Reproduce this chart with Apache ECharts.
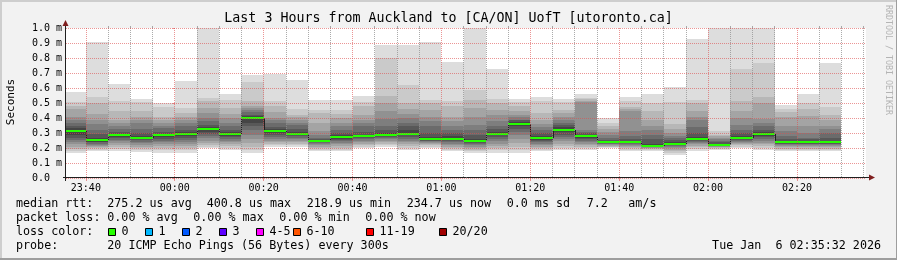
<!DOCTYPE html>
<html><head><meta charset="utf-8">
<script src="https://cdn.jsdelivr.net/npm/echarts@6/dist/echarts.min.js"></script>
<style>html,body{margin:0;padding:0;background:#f2f2f2}#c{width:897px;height:260px}</style>
</head><body><div id="c"></div>
<script>
// ---- data ----
const rangeStart = '23:35:32';
const rangeEnd = '02:35:32';
const stepMinutes = 5; // probe every 300s
const slotEnds = ['23:40','23:45','23:50','23:55','00:00','00:05','00:10','00:15','00:20','00:25','00:30','00:35','00:40','00:45','00:50','00:55','01:00','01:05','01:10','01:15','01:20','01:25','01:30','01:35','01:40','01:45','01:50','01:55','02:00','02:05','02:10','02:15','02:20','02:25','02:30'];
// sorted ping rtts per slot (ms)
const pings = [
[0.166,0.18,0.195,0.21,0.225,0.24,0.255,0.27,0.29,0.305,0.316,0.333,0.345,0.367,0.39,0.41,0.461,0.483,0.506,0.573],
[0.181,0.19,0.2,0.208,0.215,0.222,0.23,0.237,0.243,0.248,0.254,0.27,0.295,0.322,0.36,0.39,0.43,0.5,0.539,0.904],
[0.18,0.195,0.21,0.222,0.235,0.245,0.255,0.265,0.275,0.282,0.287,0.295,0.31,0.33,0.349,0.37,0.389,0.45,0.512,0.624],
[0.172,0.185,0.198,0.21,0.222,0.232,0.242,0.252,0.26,0.264,0.268,0.28,0.3,0.33,0.367,0.39,0.41,0.445,0.506,0.53],
[0.17,0.185,0.2,0.213,0.225,0.237,0.25,0.262,0.274,0.282,0.286,0.295,0.31,0.333,0.35,0.367,0.39,0.41,0.474,0.501],
[0.17,0.185,0.2,0.213,0.226,0.24,0.253,0.266,0.28,0.29,0.296,0.305,0.32,0.345,0.37,0.39,0.41,0.434,0.468,0.644],
[0.199,0.21,0.222,0.235,0.25,0.265,0.28,0.295,0.31,0.322,0.332,0.34,0.355,0.378,0.4,0.434,0.47,0.512,0.535,1.15],
[0.188,0.2,0.212,0.225,0.238,0.25,0.262,0.272,0.282,0.289,0.293,0.305,0.32,0.345,0.37,0.4,0.43,0.468,0.523,0.557],
[0.17,0.19,0.21,0.235,0.26,0.29,0.32,0.345,0.37,0.392,0.404,0.415,0.42,0.44,0.456,0.47,0.483,0.512,0.64,0.685],
[0.21,0.22,0.23,0.24,0.25,0.262,0.274,0.287,0.3,0.308,0.314,0.325,0.34,0.367,0.385,0.4,0.44,0.479,0.512,0.696],
[0.21,0.22,0.23,0.24,0.25,0.26,0.27,0.278,0.285,0.289,0.293,0.31,0.33,0.356,0.37,0.39,0.41,0.423,0.463,0.653],
[0.177,0.19,0.2,0.21,0.218,0.225,0.232,0.237,0.241,0.243,0.245,0.25,0.26,0.27,0.29,0.311,0.37,0.434,0.456,0.523],
[0.177,0.19,0.2,0.212,0.224,0.235,0.245,0.255,0.263,0.269,0.273,0.285,0.3,0.32,0.345,0.37,0.4,0.43,0.456,0.523],
[0.199,0.21,0.22,0.23,0.24,0.25,0.258,0.265,0.271,0.275,0.279,0.29,0.31,0.345,0.37,0.39,0.423,0.479,0.506,0.546],
[0.21,0.22,0.23,0.24,0.25,0.258,0.266,0.273,0.279,0.282,0.286,0.3,0.32,0.345,0.396,0.445,0.5,0.55,0.8,0.886],
[0.188,0.2,0.212,0.225,0.238,0.25,0.262,0.275,0.285,0.292,0.298,0.32,0.345,0.37,0.4,0.43,0.461,0.5,0.617,0.886],
[0.199,0.208,0.217,0.225,0.232,0.239,0.245,0.25,0.255,0.258,0.262,0.275,0.3,0.345,0.38,0.41,0.456,0.5,0.523,0.908],
[0.177,0.19,0.2,0.21,0.22,0.23,0.238,0.246,0.254,0.258,0.262,0.28,0.3,0.32,0.35,0.378,0.41,0.479,0.512,0.774],
[0.166,0.178,0.19,0.2,0.21,0.218,0.226,0.233,0.239,0.242,0.246,0.26,0.29,0.32,0.356,0.41,0.468,0.523,0.586,1.2],
[0.17,0.185,0.2,0.215,0.23,0.245,0.26,0.272,0.285,0.292,0.298,0.31,0.325,0.345,0.378,0.42,0.456,0.5,0.528,0.725],
[0.17,0.19,0.21,0.235,0.26,0.285,0.31,0.33,0.345,0.358,0.366,0.375,0.385,0.39,0.41,0.423,0.45,0.479,0.506,0.528],
[0.177,0.188,0.198,0.208,0.218,0.228,0.238,0.248,0.256,0.262,0.266,0.28,0.3,0.32,0.34,0.36,0.39,0.434,0.512,0.541],
[0.188,0.2,0.215,0.23,0.245,0.26,0.275,0.29,0.305,0.318,0.326,0.34,0.355,0.367,0.39,0.41,0.435,0.456,0.506,0.528],
[0.188,0.2,0.21,0.22,0.23,0.24,0.25,0.26,0.268,0.275,0.279,0.29,0.3,0.31,0.322,0.506,0.515,0.525,0.535,0.557],
[0.199,0.205,0.21,0.215,0.22,0.225,0.229,0.232,0.235,0.236,0.238,0.245,0.255,0.27,0.289,0.31,0.33,0.349,0.367,0.4],
[0.177,0.188,0.198,0.207,0.215,0.222,0.229,0.235,0.239,0.241,0.243,0.25,0.26,0.28,0.311,0.445,0.46,0.474,0.512,0.541],
[0.177,0.185,0.192,0.198,0.203,0.207,0.21,0.212,0.214,0.215,0.217,0.23,0.26,0.289,0.32,0.345,0.39,0.445,0.5,0.557],
[0.154,0.168,0.18,0.19,0.2,0.208,0.215,0.22,0.225,0.227,0.229,0.24,0.255,0.265,0.28,0.3,0.33,0.362,0.506,0.608],
[0.183,0.195,0.205,0.215,0.225,0.233,0.24,0.247,0.253,0.258,0.262,0.275,0.3,0.34,0.39,0.41,0.45,0.5,0.523,0.926],
[0.188,0.195,0.2,0.205,0.209,0.212,0.215,0.217,0.219,0.22,0.222,0.23,0.24,0.25,0.26,0.27,0.28,0.289,0.311,1.2],
[0.199,0.208,0.217,0.225,0.233,0.24,0.247,0.254,0.259,0.262,0.266,0.28,0.3,0.32,0.356,0.4,0.45,0.512,0.73,1.2],
[0.188,0.2,0.212,0.224,0.236,0.248,0.26,0.272,0.283,0.292,0.298,0.31,0.32,0.345,0.37,0.394,0.5,0.541,0.765,1.2],
[0.177,0.187,0.196,0.204,0.212,0.219,0.225,0.23,0.234,0.236,0.238,0.245,0.26,0.28,0.311,0.35,0.41,0.44,0.461,0.49],
[0.177,0.187,0.196,0.204,0.212,0.219,0.225,0.23,0.234,0.236,0.238,0.245,0.257,0.27,0.3,0.35,0.416,0.46,0.5,0.557],
[0.177,0.187,0.196,0.204,0.212,0.219,0.225,0.23,0.234,0.236,0.238,0.25,0.27,0.3,0.33,0.35,0.389,0.423,0.474,0.765]
];
const medians = [0.311,0.251,0.284,0.266,0.284,0.293,0.327,0.291,0.398,0.311,0.291,0.244,0.271,0.277,0.284,0.295,0.26,0.26,0.244,0.295,0.362,0.264,0.322,0.277,0.237,0.242,0.215,0.228,0.258,0.221,0.264,0.295,0.237,0.237,0.237];
const xMajorLabels = ['23:40','00:00','00:20','00:40','01:00','01:20','01:40','02:00','02:20'];
const xMinorGrid = ['23:45','23:50','23:55','00:05','00:10','00:15','00:25','00:30','00:35','00:45','00:50','00:55','01:05','01:10','01:15','01:25','01:30','01:35','01:45','01:50','01:55','02:05','02:10','02:15','02:25','02:30','02:35'];
const yMin = 0, yMax = 1.0, yStep = 0.1;
const legendRows = [
  [['median rtt:',16],['275.2 us avg',107.3],['400.8 us max',206.7],['218.9 us min',306.7],['234.7 us now',406.7],['0.0 ms sd',506.7],['7.2',586.7],['am/s',628.3]],
  [['packet loss:',16],['0.00 % avg',107.3],['0.00 % max',193.3],['0.00 % min',279.3],['0.00 % now',365.3]],
  [['loss color:',16]],
  [['probe:',16],['20 ICMP Echo Pings (56 Bytes) every 300s',107.3]]
];
const lossLabels = ['0','1','2','3','4-5','6-10','11-19','20/20'];
const lossColors = ['#26ff00','#00b8ff','#0059ff','#5e00ff','#ff00ff','#ff5500','#ff0000','#a10000'];
const lossBoxX = [108.5,145.5,182.5,219.5,256.5,293.5,366.5,439.5];
const stamp = 'Tue Jan  6 02:35:32 2026';
const title = 'Last 3 Hours from Auckland to [CA/ON] UofT [utoronto.ca]';

// ---- helpers ----
function toMin(s){ const p=s.split(':').map(Number); let h=p[0]; if(h>=12) h-=24; return h*60+p[1]+(p[2]||0)/60; }
function fmt(v){ let m=Math.round(v); if(m<0) m+=1440; const h=Math.floor(m/60), mm=m%60; return String(h).padStart(2,'0')+':'+String(mm).padStart(2,'0'); }
const bandColors=['#dddddd','#cacaca','#b7b7b7','#a4a4a4','#919191','#7e7e7e','#6b6b6b','#585858','#454545','#323232'];
const MONO='DejaVu Sans Mono';
const GRID_C='rgba(143,143,143,0.75)', MGRID_C='rgba(222,79,79,0.6)', ARROW_C='#801f1f', AXIS_C='#1f1f1f';
const G={left:66,top:28,width:800,height:150};

const chart = echarts.init(document.getElementById('c'), null, {renderer:'canvas'});
const series=[];
for(let k=0;k<10;k++){
  series.push({
    type:'custom', z:2+k*0.01, silent:true,
    data: slotEnds.map((s,i)=>[toMin(s), pings[i][k], pings[i][19-k]]),
    renderItem:function(params, api){
      const t=api.value(0), lo=api.value(1), hi=api.value(2);
      const a=api.coord([t-stepMinutes, lo]), b=api.coord([t, hi]);
      const cs=params.coordSys;
      const x0=Math.round(Math.max(a[0], cs.x)), x1=Math.round(Math.min(b[0], cs.x+cs.width));
      const yT=Math.round(Math.max(b[1], cs.y)), yB=Math.round(Math.min(a[1], cs.y+cs.height));
      return {type:'rect', shape:{x:x0,y:yT,width:x1-x0,height:Math.max(yB-yT,0)}, style:{fill:bandColors[k]}};
    }
  });
}
series.push({
  type:'custom', z:3, silent:true,
  data: slotEnds.map((s,i)=>[toMin(s), medians[i]]),
  renderItem:function(params, api){
    const i=params.dataIndex, t=api.value(0), m=api.value(1);
    const a=api.coord([t-stepMinutes, m]), b=api.coord([t, m]);
    const cs=params.coordSys;
    const x0=Math.round(Math.max(a[0], cs.x)), x1=Math.round(b[0]);
    const y=Math.round(a[1]);
    const children=[];
    if(i>0){
      const py=Math.round(api.coord([t, medians[i-1]])[1]);
      children.push({type:'line', shape:{x1:x0+0.5,y1:py,x2:x0+0.5,y2:y}, style:{stroke:'#202020',lineWidth:1}});
    }
    children.push({type:'rect', shape:{x:x0,y:y-1,width:x1-x0,height:2}, style:{fill:'#26ff00'}});
    return {type:'group', children};
  }
});

const graphics=[];
// borders
graphics.push({type:'rect',shape:{x:0,y:0,width:897,height:2},style:{fill:'#cecece'},z:200});
graphics.push({type:'rect',shape:{x:0,y:0,width:2,height:260},style:{fill:'#cecece'},z:200});
graphics.push({type:'rect',shape:{x:0,y:258,width:897,height:2},style:{fill:'#9e9e9e'},z:201});
graphics.push({type:'rect',shape:{x:896,y:0,width:1,height:260},style:{fill:'#9e9e9e'},z:201});
// axes lines and arrows
graphics.push({type:'line',shape:{x1:65.5,y1:181,x2:65.5,y2:24},style:{stroke:AXIS_C,lineWidth:1},z:150});
graphics.push({type:'line',shape:{x1:63,y1:177.5,x2:870,y2:177.5},style:{stroke:AXIS_C,lineWidth:1},z:150});
graphics.push({type:'polygon',shape:{points:[[65.5,20],[62.5,26],[68.5,26]]},style:{fill:ARROW_C},z:151});
graphics.push({type:'polygon',shape:{points:[[875,177.5],[869,174.5],[869,180.5]]},style:{fill:ARROW_C},z:151});
// title
graphics.push({type:'text',x:448.5,y:19,style:{text:title,font:'13.3px "'+MONO+'"',fill:'#000',align:'center',verticalAlign:'middle'},z:150});
// y name
graphics.push({type:'text',x:11,y:102,rotation:Math.PI/2,style:{text:'Seconds',font:'11px "'+MONO+'"',fill:'#000',align:'center',verticalAlign:'middle'},z:150});
// watermark
graphics.push({type:'text',x:888,y:60,rotation:-Math.PI/2,style:{text:'RRDTOOL / TOBI OETIKER',font:'8.3px "'+MONO+'"',fill:'#b4b4b4',align:'center',verticalAlign:'middle'},z:150});
// legend
const rowY=[204,218,232,246];
legendRows.forEach((row,r)=>row.forEach(([txt,x])=>{
  graphics.push({type:'text',x:x,y:rowY[r],style:{text:txt,font:'11.7px "'+MONO+'"',fill:'#000',align:'left',verticalAlign:'middle'},z:150});
}));
lossLabels.forEach((lab,i)=>{
  graphics.push({type:'rect',shape:{x:lossBoxX[i],y:228.5,width:7,height:7},style:{fill:lossColors[i],stroke:'#000',lineWidth:1},z:150});
  graphics.push({type:'text',x:lossBoxX[i]+13,y:232,style:{text:lab,font:'11.7px "'+MONO+'"',fill:'#000',align:'left',verticalAlign:'middle'},z:150});
});
graphics.push({type:'text',x:881,y:246,style:{text:stamp,font:'11.7px "'+MONO+'"',fill:'#000',align:'right',verticalAlign:'middle'},z:150});

const majorVals=xMajorLabels.map(toMin), minorVals=xMinorGrid.map(toMin);
chart.setOption({
  animation:false,
  backgroundColor:'#f2f2f2',
  grid:{left:G.left,top:G.top,width:G.width,height:G.height,show:true,backgroundColor:'#ffffff',borderWidth:0},
  xAxis:[{
    type:'value', min:toMin(rangeStart), max:toMin(rangeEnd), position:'bottom', z:10,
    axisLine:{show:false},
    axisTick:{show:true, customValues:majorVals, length:3, lineStyle:{color:MGRID_C}},
    axisLabel:{show:true, customValues:majorVals, formatter:v=>fmt(v), fontFamily:MONO, fontSize:10, color:'#000', margin:5},
    splitLine:{show:true, lineStyle:{color:MGRID_C, type:[1,1], width:1}}
  },{
    type:'value', min:toMin(rangeStart), max:toMin(rangeEnd), position:'top', z:9,
    axisLine:{show:false},
    axisTick:{show:true, customValues:minorVals, length:2, lineStyle:{color:GRID_C}},
    axisLabel:{show:false, customValues:minorVals},
    splitLine:{show:true, lineStyle:{color:GRID_C, type:[1,1], width:1}}
  }],
  yAxis:{
    type:'value', min:yMin, max:yMax, interval:yStep, z:10,
    axisLine:{show:false},
    axisTick:{show:true, length:2, lineStyle:{color:MGRID_C}},
    axisLabel:{formatter:v=> v===0 ? '0.0  ' : v.toFixed(1)+' m', fontFamily:MONO, fontSize:10, color:'#000', margin:4},
    splitLine:{show:true, lineStyle:{color:MGRID_C, type:[1,1], width:1}}
  },
  graphic:graphics,
  series:series
});
</script></body></html>
